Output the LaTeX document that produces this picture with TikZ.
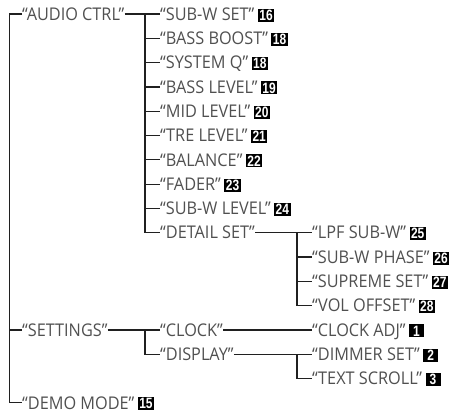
\documentclass[tikz,border=0pt]{standalone}
\usepackage{fontspec}
\setmainfont{Open Sans}[FakeStretch=0.93]
\newfontfamily\numfont{Liberation Sans}[FakeStretch=0.8]
\usepackage{tikz}
\usetikzlibrary{positioning}
\definecolor{menugray}{HTML}{505050}
\definecolor{linegray}{HTML}{202020}

\begin{document}
\begin{tikzpicture}[x=1pt,y=-1pt,
		menu/.style={anchor=west,inner sep=0pt,text height=12.5pt,text depth=0pt,text=menugray,font=\fontsize{17.5}{20}\selectfont},
		num/.style={fill=black,text=white,inner xsep=1.5pt,inner ysep=0pt,minimum width=15pt,minimum height=13pt,font=\numfont\bfseries\fontsize{15}{15}\selectfont,right=3pt of #1,yshift=-1pt},
		tree/.style={linegray,line width=1.2pt}]
		\useasboundingbox (0,0) rectangle (458,416);
		% first level
		\node[menu] (audio) at (22,14) {“AUDIO CTRL”};
		\node[menu] (settings) at (22,329.9) {“SETTINGS”};
		\node[menu] (demo) at (22,402.8) {“DEMO MODE”};
		\node[num=demo] (n15) {15};
		% audio ctrl
		\node[menu] (subwset) at (160,14) {“SUB-W SET”};
		\node[num=subwset] (n16) {16};
		\node[menu] (bassboost) at (160,38.3) {“BASS BOOST”};
		\node[num=bassboost] (n18a) {18};
		\node[menu] (systemq) at (160,62.6) {“SYSTEM Q”};
		\node[num=systemq] (n18b) {18};
		\node[menu] (basslevel) at (160,86.9) {“BASS LEVEL”};
		\node[num=basslevel] (n19) {19};
		\node[menu] (midlevel) at (160,111.2) {“MID LEVEL”};
		\node[num=midlevel] (n20) {20};
		\node[menu] (trelevel) at (160,135.5) {“TRE LEVEL”};
		\node[num=trelevel] (n21) {21};
		\node[menu] (balance) at (160,159.8) {“BALANCE”};
		\node[num=balance] (n22) {22};
		\node[menu] (fader) at (160,184.1) {“FADER”};
		\node[num=fader] (n23) {23};
		\node[menu] (subwlevel) at (160,208.4) {“SUB-W LEVEL”};
		\node[num=subwlevel] (n24) {24};
		\node[menu] (detail) at (160,232.7) {“DETAIL SET”};
		% detail set
		\node[menu] (lpf) at (312,232.7) {“LPF SUB-W”};
		\node[num=lpf] (n25) {25};
		\node[menu] (phase) at (312,257) {“SUB-W PHASE”};
		\node[num=phase] (n26) {26};
		\node[menu] (supreme) at (312,281.3) {“SUPREME SET”};
		\node[num=supreme] (n27) {27};
		\node[menu] (voloffset) at (312,305.6) {“VOL OFFSET”};
		\node[num=voloffset] (n28) {28};
		% settings
		\node[menu] (clock) at (160,329.9) {“CLOCK”};
		\node[menu] (display) at (160,354.2) {“DISPLAY”};
		\node[menu] (clockadj) at (312,329.9) {“CLOCK ADJ”};
		\node[num=clockadj] (n1) {1};
		\node[menu] (dimmer) at (312,354.2) {“DIMMER SET”};
		\node[num=dimmer] (n2) {2};
		\node[menu] (textscroll) at (312,378.5) {“TEXT SCROLL”};
		\node[num=textscroll] (n3) {3};
		% connectors
		\coordinate (t1) at (9.5,14);
		\coordinate (t2) at (145,14);
		\coordinate (t3) at (297,232.7);
		\draw[tree] (audio.west) -- (t1) |- (demo.west);
		\draw[tree] (t1 |- settings.west) -- (settings.west);
		\draw[tree] (audio.east) -- (subwset.west);
		\draw[tree] (t2) |- (detail.west);
		\draw[tree] (t2 |- bassboost.west) -- (bassboost.west);
		\draw[tree] (t2 |- systemq.west) -- (systemq.west);
		\draw[tree] (t2 |- basslevel.west) -- (basslevel.west);
		\draw[tree] (t2 |- midlevel.west) -- (midlevel.west);
		\draw[tree] (t2 |- trelevel.west) -- (trelevel.west);
		\draw[tree] (t2 |- balance.west) -- (balance.west);
		\draw[tree] (t2 |- fader.west) -- (fader.west);
		\draw[tree] (t2 |- subwlevel.west) -- (subwlevel.west);
		\draw[tree] (detail.east) -- (lpf.west);
		\draw[tree] (t3) |- (voloffset.west);
		\draw[tree] (t3 |- phase.west) -- (phase.west);
		\draw[tree] (t3 |- supreme.west) -- (supreme.west);
		\draw[tree] (settings.east) -- (clock.west);
		\draw[tree] (t2 |- clock.west) |- (display.west);
		\draw[tree] (clock.east) -- (clockadj.west);
		\draw[tree] (display.east) -- (dimmer.west);
		\draw[tree] (t3 |- dimmer.west) |- (textscroll.west);
	\end{tikzpicture}
\end{document}
